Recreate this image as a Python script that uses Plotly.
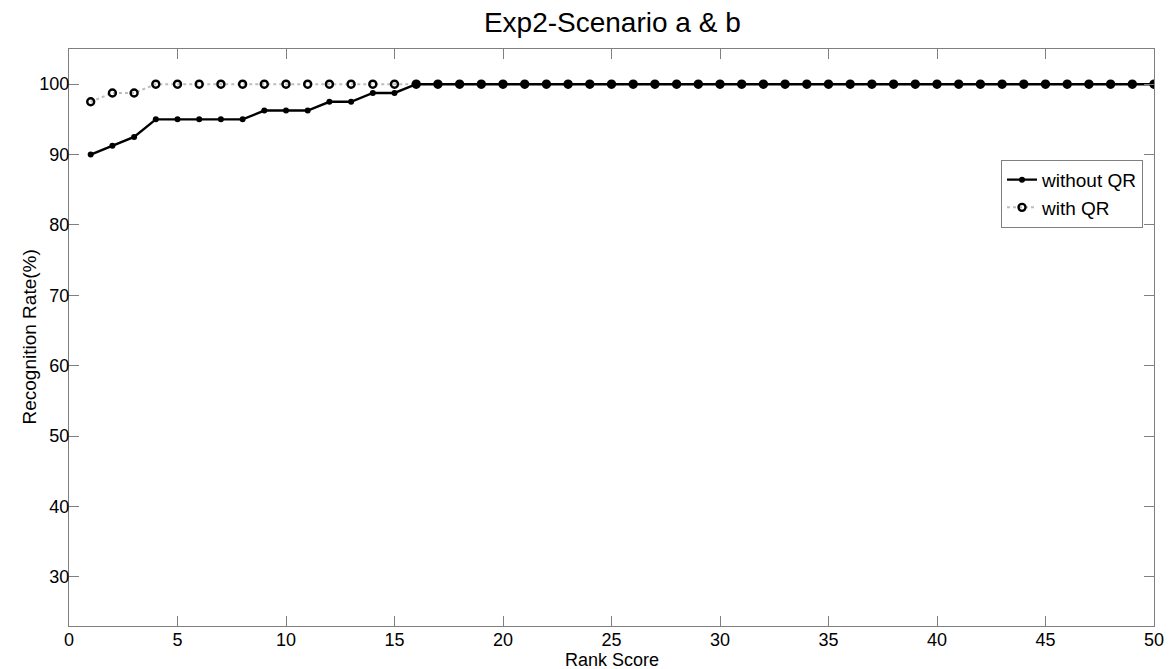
import plotly.graph_objects as go

rank = list(range(1, 51))
without_qr = [90, 91.25, 92.5, 95, 95, 95, 95, 95, 96.25, 96.25, 96.25, 97.5, 97.5, 98.75, 98.75] + [100] * 35
with_qr = [97.5, 98.75, 98.75] + [100] * 47

x_ticks = [0, 5, 10, 15, 20, 25, 30, 35, 40, 45, 50]
y_ticks = [30, 40, 50, 60, 70, 80, 90, 100]

FONT = "Liberation Sans, Arial"

fig = go.Figure()
fig.add_trace(go.Scatter(
    x=rank, y=with_qr, name="with QR", mode="lines+markers",
    line=dict(color="#bdbdbd", width=2, dash="dot"),
    marker=dict(symbol="circle-open", size=7, color="black", line=dict(width=2.4, color="black")),
))
fig.add_trace(go.Scatter(
    x=rank, y=without_qr, name="without QR", mode="lines+markers",
    line=dict(color="black", width=2.4),
    marker=dict(symbol="circle", size=6, color="black"),
))

axis_common = dict(
    showgrid=False, zeroline=False, showline=True, linecolor="#7f7f7f", linewidth=1,
    mirror="ticks", ticks="inside", ticklen=10, tickcolor="#7f7f7f", automargin=False,
    tickfont=dict(family=FONT, size=18, color="black"),
)
fig.update_xaxes(range=[0, 50], tickvals=x_ticks, ticklabelstandoff=-3, **axis_common)
fig.update_yaxes(range=[23, 105], tickvals=y_ticks, ticklabelstandoff=-5, **axis_common)

fig.add_annotation(text="Rank Score", xref="paper", yref="paper", x=0.5, y=0, yshift=-34,
                   xanchor="center", yanchor="middle", showarrow=False,
                   font=dict(family=FONT, size=18, color="black"))
fig.add_annotation(text="Recognition Rate(%)", xref="paper", yref="paper", x=0, xshift=-40, y=0.5,
                   xanchor="center", yanchor="middle", textangle=-90, showarrow=False,
                   font=dict(family=FONT, size=19, color="black"))

fig.update_layout(
    width=1173, height=669,
    margin=dict(l=69, r=19, t=49, b=43),
    paper_bgcolor="white", plot_bgcolor="white",
    title=dict(text="Exp2-Scenario a & b", x=0.522, xanchor="center", y=0.967, yanchor="middle",
               font=dict(family=FONT, size=28, color="black")),
    legend=dict(x=0.859, y=0.808, xanchor="left", yanchor="top", traceorder="reversed",
                bgcolor="white", bordercolor="#7f7f7f", borderwidth=1,
                font=dict(family=FONT, size=19, color="black"),
                itemwidth=30, tracegroupgap=0),
    showlegend=True,
)
fig.write_html("out.html", config={"displayModeBar": False},
               post_script="document.body.style.margin='0';document.body.style.padding='0';")
